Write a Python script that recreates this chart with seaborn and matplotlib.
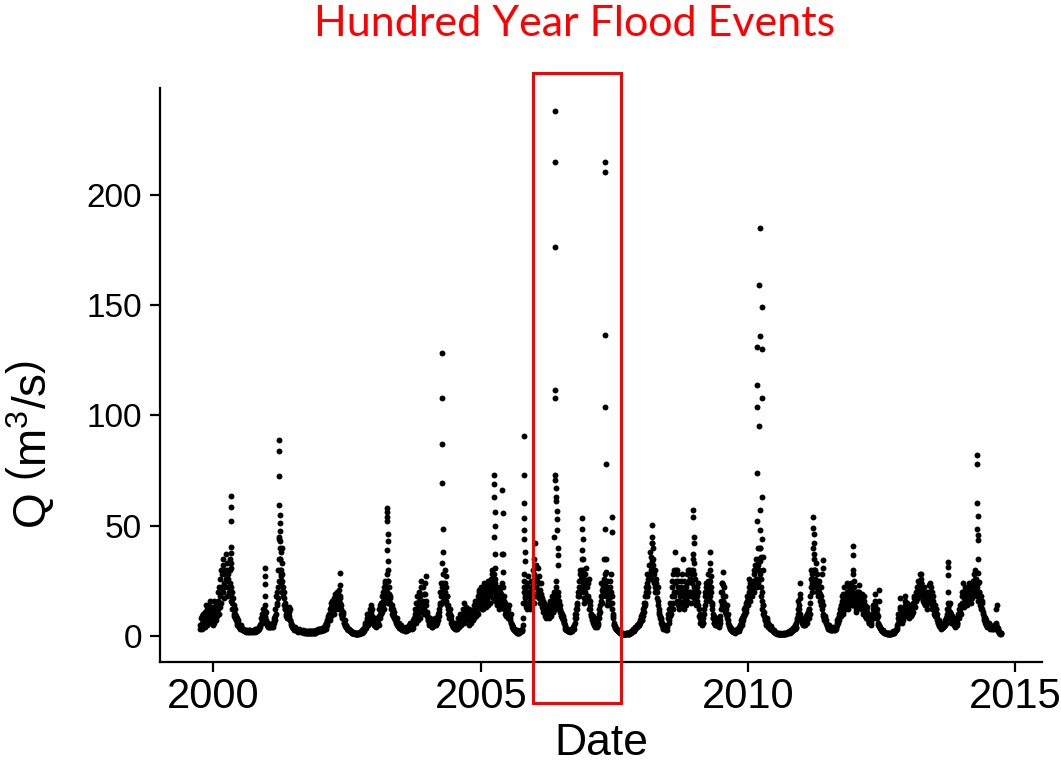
import numpy as np
import pandas as pd
import matplotlib
matplotlib.use("Agg")
import matplotlib.pyplot as plt
import seaborn as sns
from matplotlib.patches import Rectangle

# Discharge Q (m3/s). For every water year (Oct 1 .. Sep 30)
# two interleaved readings: "a" every 5 days from Oct 1, "b" every 5 days from Oct 3.
wy2000 = [3,4,5,9,6,4, 7,11,8,5,12,6, 9,14,7,10,6,8, 10,16,8,12,7,9,
          12,20,15,26,18,22, 28,20,35,24,30,37, 25,33,22,28,19,30,
          22,18,15,12,14,10, 8,9,6,5,6,4, 4,3,4,3,3,2.5, 2.5,2,2.5,2,2,1.8,
          2,2.5,2,1.8,2,2,1.8]
wy2000_b = [5,8,3,6,10,5, 9,4,14,7,9,10, 12,6,16,8,11,5, 13,6,11,15,10,14,
            16,10,22,13,30,15, 20,32,17,28,22,26, 30,18,26,20,35,24,
            16,20,12,17,9,12, 10,7,8,5,7,5, 3.5,5,3,3.5,2.5,3, 2,2.8,2.2,1.8,2.5,2,
            2.2,1.8,2.5,2,2.2,1.6,2.2]
wy2001 = [2,2,3,2,2,3, 3,4,3,5,8,6, 8,12,10,14,9,7, 6,5,5,4,5,4,
          5,4,6,5,7,9, 12,18,15,22,30,45, 35,28,25,20,22,17,
          14,12,10,13,9,8, 11,13,7,6,5,4, 4,3,3,4,3,2, 2,2,3,2,2,2,
          2,2,2,1.5,2,2,1.5]
wy2001_b = [2.5,1.8,2.2,3,2.5,2, 2.5,3.5,5,4,6,10, 10,7,12,8,11,6, 5,6,4,5.5,4,5,
            4.5,5.5,4,6,8,7, 10,14,20,17,25,35, 30,24,20,25,18,20,
            12,15,9,11,8,10, 9,7,12,5,4.5,3.5, 3.5,2.5,3.5,3,2.5,2.5, 2.5,1.8,2.2,2.5,1.8,2.2,
            1.8,2.5,1.6,2,1.8,1.4,1.8]
wy2002 = [1.5,1.5,2,1.5,2,1.5, 1.5,2,1.5,1.5,2,1.5, 2,2,2.5,2,3,2.5,
          2,3,2.5,3,2.5,3, 3.5,5,4,7,6,9, 8,12,10,15,11,14,
          12,17,13,19,15,18, 15,19,13,17,12,10, 9,11,7,6,5,5,
          4,3,3,2.5,2.5,2, 2,1.5,1.5,1.5,1.2,1.2, 1.2,1,1.2,1,1,1.2,1.5]
wy2002_b = [2,1.2,1.8,2.2,1.3,2, 1.8,1.3,2.2,1.8,1.4,2, 2.5,1.8,2.2,3,2.5,3.2,
            2.8,2.2,3.5,2.8,3.5,2.5, 4.5,3,6,5,8,7, 10,7,13,9,16,12,
            14,10,16,12,20,13, 17,12,21,15,14,9, 8,10,6,7,4.5,4,
            3.5,4,2.8,3,2.2,2.5, 1.8,1.4,1.8,1.2,1.5,1, 1,1.4,0.9,1.3,1.1,0.9,1.3]
wy2003 = [1.5,2,1.5,2,3,2.5, 4,6,5,8,6,10, 8,12,7,14,9,6, 5,7,6,4,5,8,
          6,9,12,8,15,11, 18,14,22,17,25,20, 28,20,17,22,15,18,
          12,14,10,9,11,8, 7,6,8,5,5,4, 4,3,5,3,3,2.5, 2.5,3,2,4,3,2.5,
          3,5,4,6,3,4,5]
wy2003_b = [1.8,1.4,2.5,1.8,2.2,3.5, 5,3.5,7,10,5,8, 10,6,11,8,12,7, 6,4.5,8,5,6.5,7,
            8,5,10,14,10,13, 16,20,12,24,19,22, 22,25,15,19,17,14,
            14,10,12,8,9,7, 8,5,6,4.5,6,3.5, 3.5,4,2.8,4,2.5,3, 3,2.2,3.5,2.5,3.5,4,
            4,3.5,6,4.5,5,3.5,7]
wy2004 = [6,10,8,15,12,9, 14,20,11,18,25,13, 16,22,12,19,27,14,
          10,8,7,6,8,5, 5,4,6,5,7,6, 6,5,8,7,9,12, 20,18,15,22,24,17,
          30,20,27,14,18,12, 10,8,12,7,6,5, 4,5,3,6,4,3, 5,8,6,10,7,5,
          9,12,8,15,10,7,11]
wy2004_b = [8,12,6,11,18,7, 10,16,8,22,15,11, 12,19,10,24,16,11, 9,7,8,5,7,6,
            4,5.5,4.5,6,5,8, 7,6,10,9,11,15, 14,24,20,16,19,22,
            24,16,22,18,14,10, 8,10,6,9,5,4, 6,3.5,5,3,5,4, 6,4,8,5,9,6,
            7,10,6,12,8,13,9]
wy2005 = [10,8,12,7,9,6, 8,11,9,14,10,12, 15,11,18,13,20,16,
          14,22,17,12,19,24, 18,13,21,16,25,19, 22,15,26,20,30,24,
          28,20,24,18,22,16, 15,19,14,20,17,24, 18,14,16,12,15,11,
          13,10,12,9,8,10, 6,5,4,3,3,2.5, 2,2,1.5,1.5,2,1.5,2]
wy2005_b = [7,11,5,8,10,8, 10,7,12,8,16,9, 12,16,10,21,14,18, 18,12,20,15,22,17,
            14,22,17,20,14,23, 18,24,20,28,17,22, 22,26,16,20,14,19,
            18,12,22,15,19,14, 16,12,18,10,13,9, 11,8,14,10,7,6, 5,4,3.5,3,2.5,2,
            1.8,2.5,1.8,1.3,1.7,2.2,1.8]
wy2006 = [2,3,2.5,8,25,20, 15,22,12,18,27,14, 20,12,25,16,30,18,
          35,22,42,26,18,31, 20,27,15,24,19,13, 16,11,14,9,12,8,
          10,14,8,12,16,9, 13,18,11,15,20,12, 25,20,16,18,12,14,
          12,9,10,7,8,6, 4,3,3,2.5,2,2, 2,2,3,2,2.5,3,4]
wy2006_b = [2.5,2,5,15,22,17, 18,13,24,15,20,18, 16,22,14,20,24,15, 28,18,32,22,25,20,
            24,17,21,18,15,17, 12,15,10,13,9,10, 12,9,14,10,13,11,
            16,11,14,17,12,15, 22,18,20,14,16,11, 10,11,8,9,6,7, 5,3.5,2.8,3,2.2,2.5,
            2.5,1.8,2.5,2.8,2,3.5,3]
wy2007 = [5,8,12,10,15,20, 25,18,30,22,35,27, 20,26,15,22,31,18,
          22,17,26,14,12,10, 8,7,6,8,5,4, 5,4,8,6,10,14,
          18,24,15,22,20,35, 28,22,18,25,16,20, 14,22,28,18,12,9,
          6,5,4,3,3,2.5, 2,2,1.5,1.5,1.2,1.2, 1,1,0.8,1,0.8,1,1]
wy2007_b = [6,10,8,14,12,18, 22,28,20,26,30,22, 24,17,20,28,16,24, 18,24,12,16,10,9,
            7,9,5,6,4.5,5, 4.5,6,5,8,12,11, 16,21,18,20,26,24,
            25,19,22,14,21,17, 18,25,20,15,10,8, 5,4.5,3.5,3,2.5,2, 2.2,1.8,1.8,1.3,1.4,1,
            1.2,0.8,1,0.9,1.1,0.8,1.2]
wy2008 = [1,1.2,1,1.5,1.2,2, 2,2.5,3,2.5,4,3.5, 4,5,4.5,6,5,7,
          8,10,7,12,15,11, 15,22,18,28,20,32, 26,38,30,42,28,35,
          24,30,20,26,17,22, 14,10,9,7,6,5, 4,3,5,3,2.5,3,
          4,8,12,6,15,10, 18,25,12,30,20,38, 25,16,30,22,12,18,15]
wy2008_b = [1.2,1,1.4,1.1,1.6,1.8, 2.2,2.8,2.4,3.5,3,4, 4.5,4,5.5,5,6.5,6, 9,7,11,9,13,14,
            18,20,24,22,26,28, 32,26,36,34,32,30, 28,22,24,20,20,16,
            12,11,8,8,5,6, 3.5,4,3,4,3,2.5, 5,10,7,12,9,14, 22,15,28,18,24,30,
            20,28,14,25,16,20,22]
wy2009 = [25,15,35,20,12,18, 14,22,28,18,25,30, 20,30,15,24,35,22,
          18,26,14,22,16,20, 12,8,6,9,5,7, 6,10,14,20,24,18,
          22,28,19,25,16,20, 14,10,8,6,5,7, 6,5,8,4,5,6,
          12,20,24,16,22,13, 18,10,14,8,7,5, 4,3,3,2.5,2,2,2]
wy2009_b = [18,28,14,25,16,22, 20,16,24,30,20,26, 26,18,28,20,30,17, 22,15,20,18,24,14,
            9,10,7,6,8,6, 8,12,18,16,22,20, 25,20,24,18,22,15,
            12,8,9,6,7,5, 5,7,6,5,7,9, 16,14,20,18,15,11, 12,12,9,10,6,4.5,
            3.5,3.5,2.8,2.2,2.5,1.8,2.2]
wy2010 = [2,1.5,2,3,2,2.5, 3,5,4,7,6,9, 8,12,10,15,11,18,
          14,20,26,16,22,24, 18,25,20,30,24,35, 30,22,35,26,40,28,
          22,16,12,14,9,8, 7,6,8,5,4,5, 4,3,3.5,2.5,2.5,2,
          2,1.5,1.5,1.2,1.2,1, 1,0.8,1,0.8,0.8,1, 0.8,1,1,1.2,1,1.5,1.2]
wy2010_b = [1.8,2.2,2.5,2.2,2.8,2, 4,3.5,6,5,8,7, 10,9,13,12,16,14, 17,22,19,24,18,20,
            22,20,28,22,32,26, 26,32,24,30,34,26, 18,20,14,10,11,7,
            8,5,7,6,5,4, 3.5,4.5,3,3,2.2,2.5, 1.8,1.8,1.3,1.5,1,1.2, 0.9,1.2,0.7,1,0.9,0.8,
            1.1,0.8,1.3,1,1.3,1.1,1.4]
wy2011 = [1.5,2,1.5,2,2.5,2, 3,2.5,4,3,5,4, 7,10,16,12,8,10,
          8,6,7,5,6,5, 7,9,6,11,8,12, 15,22,30,20,25,35,
          30,24,33,20,28,18, 25,16,22,14,28,12, 10,8,7,9,6,5,
          4,3,5,3,2.5,3, 2.5,4,3,3,2.5,3, 4,7,6,10,8,12,9]
wy2011_b = [1.8,1.6,2.2,1.8,2,2.8, 2.8,3.5,3,4.5,3.5,6, 8,12,14,10,9,7, 7,6.5,5.5,6,5,6,
            8,7,10,9,12,10, 18,26,24,28,22,30, 26,30,22,25,20,24,
            20,19,18,22,16,14, 9,7,8,6,7,4.5, 3.5,4,3.5,2.8,3,2.5, 3,3.5,2.8,3.5,3,4,
            6,5,8,7,11,10,14]
wy2012 = [13,18,10,16,22,12, 15,20,24,12,18,22, 18,24,14,20,16,22,
          14,19,11,17,13,20, 23,15,18,12,16,10, 14,18,9,12,8,11,
          7,9,6,8,5,7, 10,14,8,12,19,9, 12,8,6,5,4,3.5,
          3,2.5,2,2,1.5,1.5, 1.5,1.2,1,1.2,1,1, 1,1.2,1,1.5,1.2,2,1.5]
wy2012_b = [16,11,19,14,18,15, 18,13,20,16,22,14, 21,16,20,18,14,19, 17,12,15,20,15,18,
            20,17,14,19,12,13, 16,11,14,10,13,9, 8,6,7,9,6,8,
            12,9,11,16,14,11, 10,9,5,4.5,3.5,3, 2.8,2.2,2.5,1.8,1.8,1.3, 1.3,1.4,1.2,1,1.2,0.9,
            1.2,1,1.4,1.2,1.6,1.4,1.8]
wy2013 = [2,2.5,3,5,8,6, 10,17,8,6,9,7, 10,14,18,11,15,9,
          12,8,10,14,9,12, 15,11,18,13,20,16, 22,17,25,19,28,21,
          24,18,20,15,22,14, 17,12,20,15,23,18, 24,16,20,12,18,10,
          14,9,12,7,8,6, 5,4,6,3,5,4, 4,6,5,8,6,12,15]
wy2013_b = [2.2,2.8,4,6,10,7, 13,12,10,7,8,9, 12,16,13,15,12,11, 10,12,9,11,13,10,
            13,17,14,16,18,19, 18,21,20,23,18,24, 20,22,16,18,16,17,
            14,16,18,19,20,15, 20,22,14,16,14,12, 11,12,9,10,6,7, 4.5,5,4,5,3.5,5,
            5,4.5,7,6,9,10,12]
wy2014 = [12,8,15,10,6,9, 7,5,8,4,6,5, 6,9,12,8,14,10,
          15,20,24,13,18,22, 16,21,14,19,24,17, 20,15,22,18,25,28,
          30,22,26,18,24,16, 20,14,18,12,16,10, 9,7,8,5,6,4,
          5,4,6,3,4,3, 4,3,5,3,4,6, 4,2.5,2,1.5,1.2,1,1]
wy2014_b = [10,14,11,8,8,7, 6,6.5,5.5,6,4.5,6, 8,10,9,12,11,13, 18,14,20,17,21,16,
            19,18,22,16,20,21, 18,22,17,24,20,24, 26,20,22,24,18,20,
            16,17,13,15,12,11, 8,8,6,7,5,5, 4.5,5,4,4.5,3.5,4, 3.5,4,4,4.5,5,5,
            3,3.5,2,1.8,1.4,1.2,1.1]

water_years = [2000, 2001, 2002, 2003, 2004, 2005, 2006, 2007,
               2008, 2009, 2010, 2011, 2012, 2013, 2014]
wy_a = [wy2000, wy2001, wy2002, wy2003, wy2004, wy2005, wy2006, wy2007,
        wy2008, wy2009, wy2010, wy2011, wy2012, wy2013, wy2014]
wy_b = [wy2000_b, wy2001_b, wy2002_b, wy2003_b, wy2004_b, wy2005_b, wy2006_b, wy2007_b,
        wy2008_b, wy2009_b, wy2010_b, wy2011_b, wy2012_b, wy2013_b, wy2014_b]

# Daily values during the storm events (vertical strings of points)
peak_dates = [
    "2000-04-27", "2000-04-28", "2000-04-29", "2000-04-30", "2000-05-01", "2000-05-02", "2000-05-03",
    "2000-12-15", "2000-12-16", "2000-12-17", "2000-12-18",
    "2001-03-23", "2001-03-24", "2001-03-25", "2001-03-26", "2001-03-27", "2001-03-28", "2001-03-29",
    "2001-03-30", "2001-04-01", "2001-04-02", "2001-04-03", "2001-04-04", "2001-04-06", "2001-04-08",
    "2001-04-10", "2001-04-13", "2001-04-14", "2001-04-16",
    "2002-05-15", "2002-05-16", "2002-05-17",
    "2003-03-31", "2003-04-01", "2003-04-02", "2003-04-03", "2003-04-04", "2003-04-05", "2003-04-06",
    "2003-04-07", "2003-04-08", "2003-04-10",
    "2004-04-10", "2004-04-11", "2004-04-12", "2004-04-13", "2004-04-14", "2004-04-15", "2004-04-16",
    "2004-04-17",
    "2005-04-01", "2005-04-02", "2005-04-03", "2005-04-04", "2005-04-05", "2005-04-06", "2005-04-07",
    "2005-04-08",
    "2005-05-28", "2005-05-29", "2005-05-30", "2005-05-31", "2005-06-01", "2005-06-02",
    "2005-10-20", "2005-10-21", "2005-10-22", "2005-10-23", "2005-10-24", "2005-10-25", "2005-10-26",
    "2005-10-27", "2005-10-28",
    "2006-05-19", "2006-05-20", "2006-05-21", "2006-05-22", "2006-05-23", "2006-05-24", "2006-05-25",
    "2006-05-26", "2006-05-28", "2006-05-30", "2006-06-01", "2006-06-03", "2006-06-05", "2006-06-07",
    "2006-06-09", "2006-06-11", "2006-06-13",
    "2006-11-24", "2006-11-25", "2006-11-26", "2006-11-27", "2006-11-28", "2006-11-29",
    "2007-04-28", "2007-04-29", "2007-04-30", "2007-05-01", "2007-05-02", "2007-05-03", "2007-05-04",
    "2007-05-06",
    "2007-06-14", "2007-06-15",
    "2008-03-16", "2008-03-17", "2008-03-18", "2008-03-19",
    "2008-12-21", "2008-12-22", "2008-12-23", "2008-12-24", "2008-12-25", "2008-12-26", "2008-12-28",
    "2009-04-17", "2009-04-18", "2009-04-19", "2009-04-20",
    "2009-07-10", "2009-07-11", "2009-07-12",
    "2010-03-01", "2010-03-02", "2010-03-03", "2010-03-04", "2010-03-05", "2010-03-07", "2010-03-09",
    "2010-03-18", "2010-03-19", "2010-03-20", "2010-03-21", "2010-03-22", "2010-03-23", "2010-03-25",
    "2010-03-27",
    "2010-04-05", "2010-04-06", "2010-04-07", "2010-04-08", "2010-04-09", "2010-04-11", "2010-04-13",
    "2010-12-21", "2010-12-22", "2010-12-23",
    "2011-03-21", "2011-03-22", "2011-03-23", "2011-03-24", "2011-03-25", "2011-03-27",
    "2011-05-25", "2011-05-26",
    "2011-12-19", "2011-12-20", "2011-12-21", "2011-12-22", "2011-12-23",
    "2012-06-12", "2012-06-13",
    "2013-03-25", "2013-03-26", "2013-03-27",
    "2013-09-26", "2013-09-27", "2013-09-28", "2013-09-29",
    "2014-04-14", "2014-04-15", "2014-04-16", "2014-04-17", "2014-04-18", "2014-04-19", "2014-04-20",
    "2014-04-22", "2014-04-24", "2014-04-26",
    "2014-08-25", "2014-08-26",
]
peak_q = [
    31, 52, 63.5, 58.5, 40.5, 37.5, 33,
    31, 27, 23.4, 18,
    44, 72.5, 89, 84, 59.5, 51, 40,
    35, 55, 47.7, 43, 38, 30, 27,
    24, 40, 33, 28,
    23, 28.5, 18,
    39, 52, 58, 56, 54, 46, 43,
    34, 30, 25,
    33, 108, 128.5, 87, 69.5, 48.5, 38,
    28,
    45, 73, 69, 63, 56, 50, 37,
    31,
    37, 66, 55.6, 37, 29, 22,
    28, 53.6, 90.5, 73, 60.4, 48, 44,
    38, 34,
    45, 73, 176.5, 238, 215, 111.5, 108,
    70.8, 67, 63, 61, 56.5, 53, 48,
    40, 36.7, 32,
    39, 53.6, 48.5, 44, 35, 30,
    48.5, 136.4, 214.9, 210.3, 103.8, 78, 35,
    29,
    54, 47.3,
    42, 50.5, 45, 40,
    37, 54, 57, 45, 42, 33, 28,
    30, 38, 33, 27,
    24, 29, 23,
    74, 114, 131, 104, 52, 40, 33,
    95, 159, 185, 136, 57, 48, 40,
    36,
    108, 149, 130, 63, 44, 36, 30,
    19, 24, 17,
    40, 54, 49, 46, 42, 37,
    31, 34.5,
    28, 40.6, 36.7, 30, 25,
    16, 21,
    24, 28, 26,
    20, 33.7, 31.4, 27.6,
    48.5, 78, 82, 60.1, 54.4, 45.8, 43.5,
    34.8, 28.7, 24.6,
    12, 14.1,
]

frames = []
for wy, va, vb in zip(water_years, wy_a, wy_b):
    da = pd.date_range(f"{wy - 1}-10-01", periods=len(va), freq="5D")
    db = pd.date_range(f"{wy - 1}-10-03", periods=len(vb), freq="5D")
    frames.append(pd.DataFrame({"Date": da, "Q": va}))
    frames.append(pd.DataFrame({"Date": db, "Q": vb}))
frames.append(pd.DataFrame({"Date": pd.to_datetime(peak_dates), "Q": peak_q}))
df = pd.concat(frames, ignore_index=True)

sns.set_theme(style="ticks")
plt.rcParams["font.family"] = ["Liberation Sans", "DejaVu Sans"]
plt.rcParams["mathtext.fontset"] = "custom"
plt.rcParams["mathtext.rm"] = "Liberation Sans"
plt.rcParams["mathtext.it"] = "Liberation Sans:italic"

fig = plt.figure(figsize=(10.61, 7.70), dpi=100)
ax = fig.add_axes([160 / 1061, 1 - 662 / 770, 882 / 1061, 574 / 770])

sns.scatterplot(data=df, x="Date", y="Q", color="black", s=18,
                linewidth=0, ax=ax, legend=False)

ax.set_xlim(pd.Timestamp("1999-01-01"), pd.Timestamp("2015-07-02"))
ax.set_ylim(-11.85, 248.5)
ax.set_yticks([0, 50, 100, 150, 200])
ax.set_xticks(pd.to_datetime(["2000-01-01", "2005-01-01", "2010-01-01", "2015-01-01"]))
ax.set_xticklabels(["2000", "2005", "2010", "2015"])

for s in ["top", "right"]:
    ax.spines[s].set_visible(False)
for s in ["left", "bottom"]:
    ax.spines[s].set_linewidth(1.6)
    ax.spines[s].set_color("black")
ax.tick_params(axis="both", direction="out", length=7, width=1.6,
               color="black", labelcolor="black")
ax.tick_params(axis="y", pad=6, labelsize=24)
ax.tick_params(axis="x", pad=4, labelsize=30)
ax.grid(False)

ax.set_xlabel("Date", fontsize=32, color="black", labelpad=4)
ax.set_ylabel(r"Q $\left(\mathrm{m}^{3}/\mathrm{s}\right)$", fontsize=33, color="black")
ax.yaxis.set_label_coords(-0.118, 0.378)

fig.text(574.5 / 1061, 1 - 36 / 770, "Hundred Year Flood Events", color="#FF0000",
         fontsize=31, ha="center", va="baseline", family=["Lato", "DejaVu Sans"])

fig.add_artist(Rectangle((533 / 1061, 1 - 703 / 770), 88 / 1061, 630 / 770,
                         transform=fig.transFigure, fill=False,
                         edgecolor="#FF0000", linewidth=2.2))

fig.savefig("out.png", dpi=100)
